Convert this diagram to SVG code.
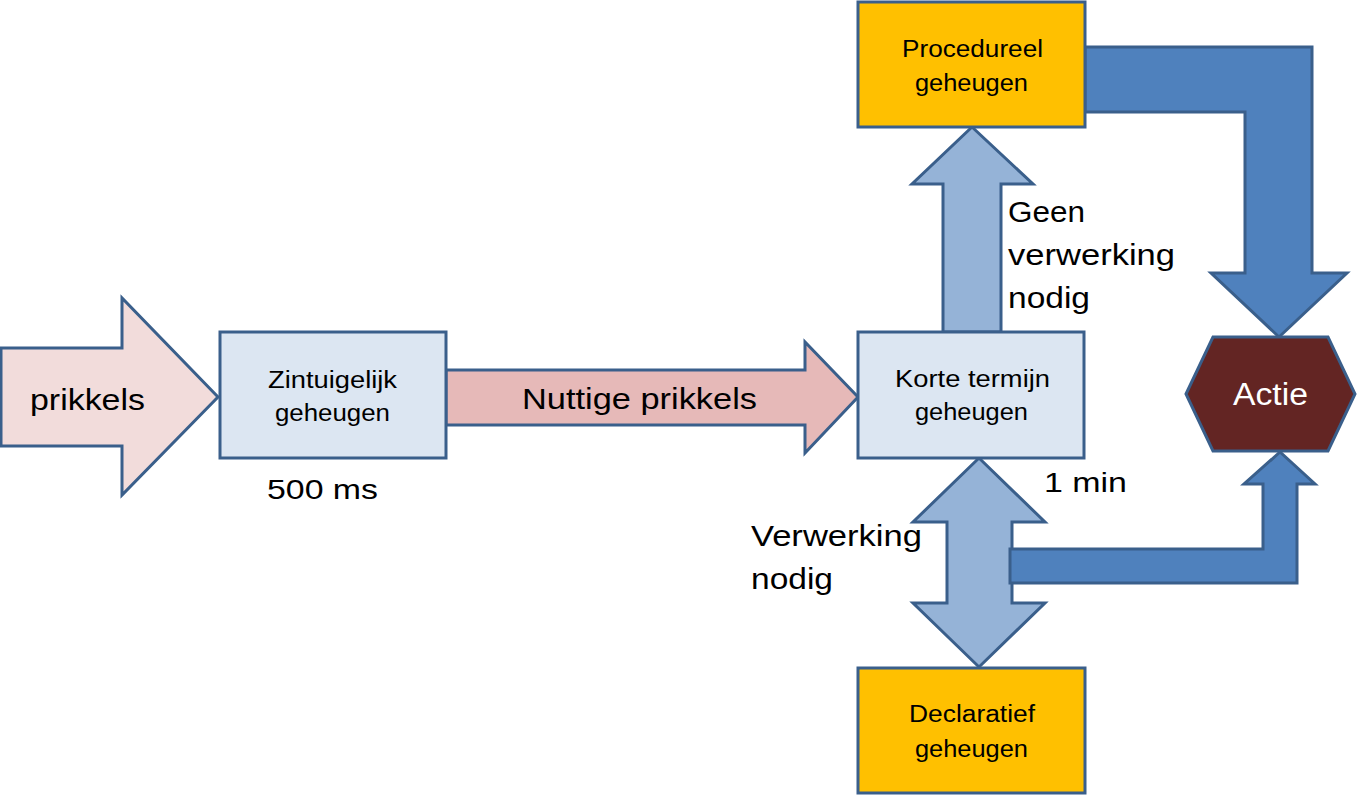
<svg xmlns="http://www.w3.org/2000/svg" width="1358" height="796" viewBox="0 0 1358 796">
<style>
.s{stroke:#3A5F8B;stroke-width:3;stroke-linejoin:miter}
.t{font-family:"Liberation Sans",Arial,sans-serif;fill:#000}
.b{font-size:23px}
.l{font-size:30px}
</style>
<rect width="1358" height="796" fill="#fff"/>
<g id="connectors">
  <g id="arrow-prikkels">
    <polygon class="s" fill="#F2DCDB" points="1,348 122,348 122,298 218,397 122,495 122,446 1,446"/>
    <text class="t l" x="30" y="410" textLength="115" lengthAdjust="spacingAndGlyphs">prikkels</text>
  </g>
  <g id="arrow-nuttige">
    <polygon class="s" fill="#E6B9B8" points="446,370 805,370 805,342 858,397 805,453 805,425 446,425"/>
    <text class="t l" x="522" y="409" textLength="235" lengthAdjust="spacingAndGlyphs">Nuttige prikkels</text>
  </g>
  <g id="arrow-geen">
    <polygon class="s" fill="#95B3D7" points="972,127 1033,184 1001,184 1001,332 943,332 943,184 912,184"/>
  </g>
  <g id="arrow-proc-actie">
    <polygon class="s" fill="#4F81BD" points="1085,47 1312,47 1312,273 1347,273 1279,337 1211,273 1245,273 1245,112 1085,112"/>
  </g>
  <g id="arrow-verwerking">
    <polygon class="s" fill="#95B3D7" points="979,458 1045,522 1012,522 1012,603 1045,603 979,667 913,603 947,603 947,522 913,522"/>
  </g>
  <g id="arrow-kort-actie">
    <polygon class="s" fill="#4F81BD" points="1010,549 1263,549 1263,484 1244,484 1280,452 1315,484 1297,484 1297,583 1010,583"/>
  </g>
</g>
<g id="node-zintuigelijk">
  <rect class="s" fill="#DCE6F2" x="220" y="332" width="226" height="126"/>
  <text class="t b" x="268" y="388" textLength="129" lengthAdjust="spacingAndGlyphs">Zintuigelijk</text>
  <text class="t b" x="275" y="421" textLength="115" lengthAdjust="spacingAndGlyphs">geheugen</text>
</g>
<g id="label-500ms">
  <text class="t" font-size="28" x="267" y="499" textLength="111" lengthAdjust="spacingAndGlyphs">500 ms</text>
</g>
<g id="node-korte">
  <rect class="s" fill="#DCE6F2" x="858" y="332" width="226" height="126"/>
  <text class="t b" x="895" y="387" textLength="155" lengthAdjust="spacingAndGlyphs">Korte termijn</text>
  <text class="t b" x="915" y="420" textLength="113" lengthAdjust="spacingAndGlyphs">geheugen</text>
</g>
<g id="node-procedureel">
  <rect class="s" fill="#FFC000" x="858" y="2" width="227" height="125"/>
  <text class="t b" x="902" y="57" textLength="141" lengthAdjust="spacingAndGlyphs">Procedureel</text>
  <text class="t b" x="915" y="91" textLength="113" lengthAdjust="spacingAndGlyphs">geheugen</text>
</g>
<g id="node-declaratief">
  <rect class="s" fill="#FFC000" x="858" y="668" width="227" height="125"/>
  <text class="t b" x="909" y="722" textLength="126" lengthAdjust="spacingAndGlyphs">Declaratief</text>
  <text class="t b" x="915" y="757" textLength="113" lengthAdjust="spacingAndGlyphs">geheugen</text>
</g>
<g id="node-actie">
  <polygon class="s" fill="#632523" points="1186,394 1213,337 1328,337 1355,394 1328,451 1213,451"/>
  <text class="t" font-size="31" style="fill:#fff" x="1233" y="405" textLength="75" lengthAdjust="spacingAndGlyphs">Actie</text>
</g>
<g id="label-geen">
  <text class="t l" x="1008" y="222" textLength="77" lengthAdjust="spacingAndGlyphs">Geen</text>
  <text class="t l" x="1008" y="265" textLength="167" lengthAdjust="spacingAndGlyphs">verwerking</text>
  <text class="t l" x="1008" y="308" textLength="82" lengthAdjust="spacingAndGlyphs">nodig</text>
</g>
<g id="label-1min">
  <text class="t" font-size="28" x="1044" y="492" textLength="83" lengthAdjust="spacingAndGlyphs">1 min</text>
</g>
<g id="label-verwerking">
  <text class="t l" x="751" y="546" textLength="171" lengthAdjust="spacingAndGlyphs">Verwerking</text>
  <text class="t l" x="751" y="589" textLength="82" lengthAdjust="spacingAndGlyphs">nodig</text>
</g>
</svg>
